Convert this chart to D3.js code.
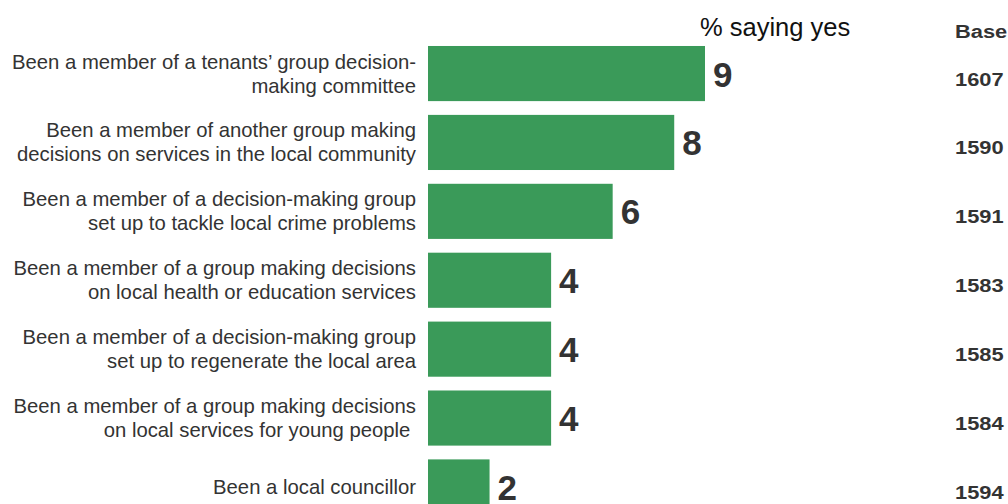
<!DOCTYPE html>
<html>
<head>
<meta charset="utf-8">
<script src="https://cdn.jsdelivr.net/npm/d3@7"></script>
<style>
  html, body { margin: 0; padding: 0; background: #fff; }
  svg { display: block; }
</style>
</head>
<body>
<svg id="chart" width="1008" height="504"></svg>
<script>
// Types of civic participation (each entry is one row; "\n" splits the label lines)
const categories = [
  "Been a member of a tenants\u2019 group decision-\nmaking committee",
  "Been a member of another group making\ndecisions on services in the local community",
  "Been a member of a decision-making group\nset up to tackle local crime problems",
  "Been a member of a group making decisions\non local health or education services",
  "Been a member of a decision-making group\nset up to regenerate the local area",
  "Been a member of a group making decisions\non local services for young people ",
  "Been a local councillor"
];
// % saying yes
const values = [9, 8, 6, 4, 4, 4, 2];
// Unweighted base for each row
const bases = [1607, 1590, 1591, 1583, 1585, 1584, 1594];

const valueTitle = "% saying yes";
const baseTitle = "Base";

const svg = d3.select("#chart");
const font = "'Liberation Sans', Arial, Helvetica, sans-serif";
const barColor = "#3a9a59";
const textColor = "#333333";
const baseX = 955;

const x = d3.scaleLinear().domain([0, 9]).range([428, 705]);
const y = d3.scaleBand()
  .domain(categories)
  .range([39.1, 39.1 + 7 * 68.9])
  .paddingInner(0.2)
  .paddingOuter(0.1);

// Column headings
svg.append("text")
  .attr("x", 700).attr("y", 36)
  .attr("font-family", font).attr("font-size", 25.5)
  .attr("fill", "#111")
  .text(valueTitle);
svg.append("text")
  .attr("transform", `translate(${baseX},38) scale(1.15,1)`)
  .attr("font-family", font).attr("font-size", 19).attr("font-weight", "bold")
  .attr("fill", textColor)
  .text(baseTitle);

const rows = svg.selectAll("g.row")
  .data(categories.map((c, i) => ({ c, v: values[i], b: bases[i] })))
  .join("g").attr("class", "row");

// Bars
rows.append("rect")
  .attr("x", x(0))
  .attr("y", d => y(d.c))
  .attr("width", d => x(d.v) - x(0))
  .attr("height", y.bandwidth())
  .attr("fill", barColor);

// Value labels at the end of each bar
rows.append("text")
  .attr("x", d => x(d.v) + 8)
  .attr("y", d => y(d.c) + y.bandwidth() / 2 + 13)
  .attr("font-family", font).attr("font-size", 35).attr("font-weight", "bold")
  .attr("fill", textColor)
  .text(d => d.v);

// Base numbers
rows.append("text")
  .attr("transform", d => `translate(${baseX},${y(d.c) + y.bandwidth() / 2 + 12}) scale(1.15,1)`)
  .attr("font-family", font).attr("font-size", 19).attr("font-weight", "bold")
  .attr("fill", textColor)
  .text(d => d.b);

// Category labels, right-aligned next to the bars (shifted right if a line would be cut off)
rows.append("text")
  .attr("text-anchor", "end")
  .attr("font-family", font).attr("font-size", 20.3)
  .attr("fill", textColor)
  .each(function (d) {
    const lines = d.c.split("\n");
    const cy = y(d.c) + y.bandwidth() / 2;
    const lh = 24;
    const t = d3.select(this);
    const spans = lines.map((ln, k) =>
      t.append("tspan")
        .attr("x", 416)
        .attr("y", cy + (k - (lines.length - 1) / 2) * lh + 7)
        .attr("xml:space", "preserve")
        .text(ln));
    const widest = d3.max(spans, s => s.node().getComputedTextLength());
    const right = Math.max(416, widest + 1);
    spans.forEach(s => s.attr("x", right));
  });
</script>
</body>
</html>
